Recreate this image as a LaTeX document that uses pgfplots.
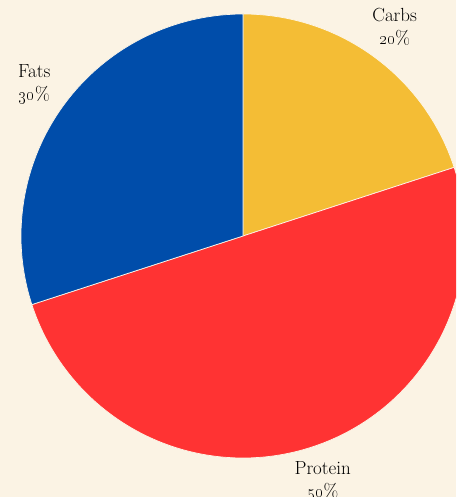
\documentclass[border=0pt]{standalone}
\usepackage{pgfplots}
\usepackage{pgfplotstable}
\pgfplotsset{compat=1.18}
\definecolor{bgCream}{HTML}{FBF3E4}
\definecolor{slice0}{HTML}{F4BD35}
\definecolor{slice1}{HTML}{FF3333}
\definecolor{slice2}{HTML}{004DAA}
\definecolor{sepLine}{HTML}{FDF6E8}

\pgfplotstableread{
label value
Carbs 20
Protein 50
Fats 30
}\piedata

\begin{document}
\begin{tikzpicture}
    \useasboundingbox (0,0) rectangle (456pt,497pt);
    \fill[bgCream] (0,0) rectangle (456pt,497pt);
    \begin{axis}[
        x=1pt, y=1pt,
        xmin=0, xmax=456, ymin=0, ymax=497,
        scale only axis,
        hide axis,
        at={(0,0)}, anchor=south west,
        clip=true
    ]
        % pie centre and radius in axis units
        \def\cx{243}\def\cy{261}
        \pgfplotstablegetrowsof{\piedata}
        \pgfmathtruncatemacro{\N}{\pgfplotsretval-1}
        \def\cum{0}
        \pgfplotsforeachungrouped \i in {0,...,\N}{
            \pgfplotstablegetelem{\i}{value}\of{\piedata}
            \let\val\pgfplotsretval
            \pgfplotstablegetelem{\i}{label}\of{\piedata}
            \let\lab\pgfplotsretval
            \pgfmathsetmacro{\a}{90-3.6*\cum}
            \pgfmathsetmacro{\b}{90-3.6*(\cum+\val)}
            \pgfmathsetmacro{\m}{(\a+\b)/2}
            \edef\temp{%
                \noexpand\fill[slice\i, draw=sepLine, line width=0.7pt]
                    (axis cs:\cx,\cy) -- ++(\a:222pt)
                    arc[start angle=\a, end angle=\b, radius=222pt] -- cycle;
                \noexpand\node[align=center, text=black, inner sep=0pt,
                    font=\noexpand\fontsize{19}{23}\noexpand\selectfont,
                    shift={(\m:258pt)}] at (axis cs:\cx,\cy)
                    {\lab\noexpand\\\noexpand\oldstylenums{\val}\noexpand\%};
            }
            \temp
            \pgfmathsetmacro{\cum}{\cum+\val}
        }
    \end{axis}
\end{tikzpicture}
\end{document}
